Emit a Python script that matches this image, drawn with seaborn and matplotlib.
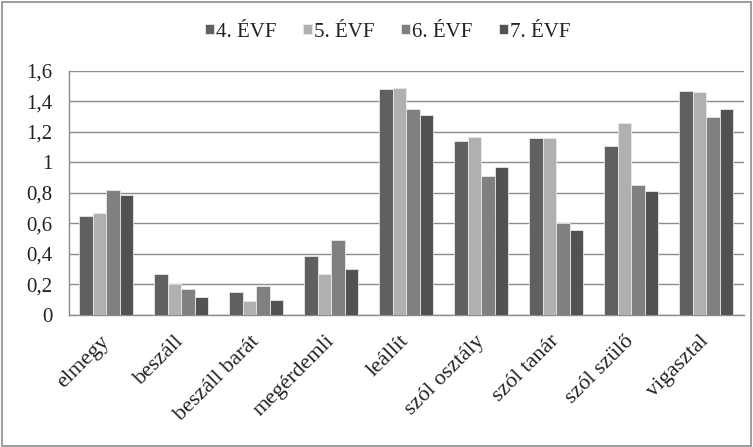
import matplotlib
matplotlib.use("Agg")
import matplotlib.pyplot as plt
from matplotlib.patches import Rectangle
from matplotlib.ticker import FuncFormatter, FixedLocator
import seaborn as sns
import pandas as pd

categories = ["elmegy", "beszáll", "beszáll barát", "megérdemli", "leállít",
              "szól osztály", "szól tanár", "szól szülő", "vigasztal"]
series = ["4. ÉVF", "5. ÉVF", "6. ÉVF", "7. ÉVF"]
evf4 = [0.65, 0.27, 0.15, 0.39, 1.48, 1.14, 1.16, 1.11, 1.47]
evf5 = [0.67, 0.20, 0.09, 0.27, 1.49, 1.17, 1.16, 1.26, 1.46]
evf6 = [0.82, 0.17, 0.19, 0.49, 1.35, 0.91, 0.60, 0.85, 1.30]
evf7 = [0.79, 0.12, 0.10, 0.30, 1.31, 0.97, 0.555, 0.81, 1.35]
colors = ["#606060", "#b0b0b0", "#808080", "#525250"]

rows = []
for name, vals in zip(series, [evf4, evf5, evf6, evf7]):
    for cat, v in zip(categories, vals):
        rows.append({"kategória": cat, "évfolyam": name, "érték": v})
df = pd.DataFrame(rows)

sns.set_theme(style="white")
plt.rcParams["font.family"] = ["Liberation Serif", "DejaVu Serif"]

FS = 15
FS_X = 16
fig = plt.figure(figsize=(7.53, 4.47), dpi=100)
ax = fig.add_axes([0.0916, 0.2953, 0.8964, 0.5459])

sns.barplot(data=df, x="kategória", y="érték", hue="évfolyam",
            order=categories, hue_order=series, palette=colors,
            width=0.72, gap=0, edgecolor="#e8e8e8", linewidth=0.6,
            errorbar=None, ax=ax, legend=True, zorder=3)

grid_c = "#8c8c8c"
ax.set_ylim(0, 1.6)
ax.set_xlim(-0.5, len(categories) - 0.5)
ax.set_yticks([i * 0.2 for i in range(9)])
ax.yaxis.set_major_formatter(FuncFormatter(
    lambda v, p: "0" if abs(v) < 1e-9 else (f"{v:.1f}".rstrip("0").rstrip(".")).replace(".", ",")))
ax.grid(axis="y", color=grid_c, linewidth=1.0, zorder=0)
ax.set_axisbelow(True)

for s in ["top", "right"]:
    ax.spines[s].set_visible(False)
for s in ["left", "bottom"]:
    ax.spines[s].set_color(grid_c)
    ax.spines[s].set_linewidth(1.0)

# category labels centred, tick marks on the category boundaries
ax.set_xticks(range(len(categories)))
ax.set_xticklabels(categories, rotation=45, ha="right", va="center",
                   rotation_mode="anchor", fontsize=FS_X, color="#222222")
ax.tick_params(axis="x", which="major", length=0, pad=17)
ax.xaxis.set_minor_locator(FixedLocator([i - 0.5 for i in range(len(categories) + 1)]))
ax.tick_params(axis="x", which="minor", length=7, color=grid_c, width=1.0, direction="out")
ax.tick_params(axis="y", length=6, color=grid_c, width=1.0, direction="out",
               labelsize=FS, labelcolor="#222222", pad=6)
ax.set_xlabel("")
ax.set_ylabel("")

handles, labels = ax.get_legend_handles_labels()
ax.get_legend().remove()
fig.legend(handles, labels, loc="center", bbox_to_anchor=(0.515, 0.928), ncol=4,
           frameon=False, fontsize=FS, handlelength=0.4, handleheight=0.4,
           handletextpad=0.1, columnspacing=1.3, labelcolor="#222222")

fig.patches.append(Rectangle((0.002, 0.003), 0.995, 0.993, transform=fig.transFigure,
                             fill=False, edgecolor="#8c8c8c", linewidth=1.2))

fig.savefig("out.png", dpi=100)
